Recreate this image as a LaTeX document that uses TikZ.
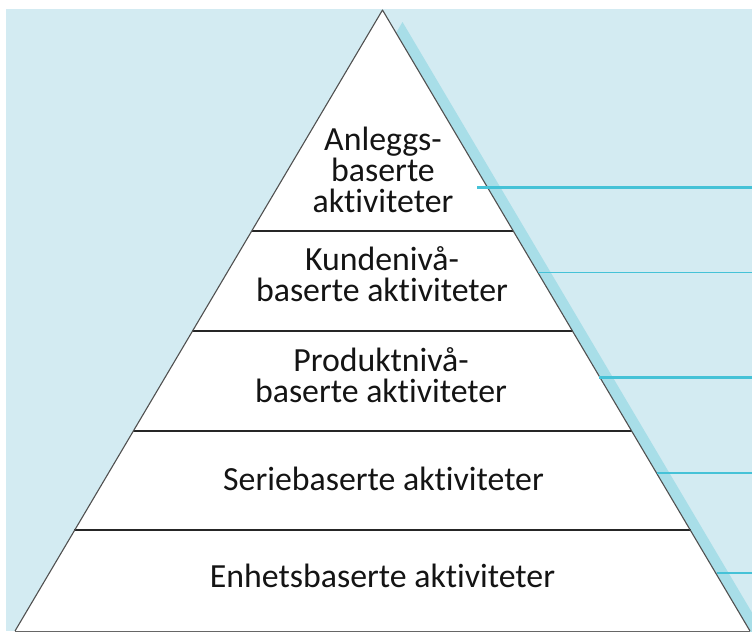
\documentclass[tikz,border=0pt]{standalone}
\usepackage{fontspec}
\setmainfont{Carlito}[Ligatures=NoCommon]
\usetikzlibrary{calc}
\definecolor{bgblue}{HTML}{D3EBF2}
\definecolor{shadowblue}{HTML}{A8DEE8}
\definecolor{lineblue}{HTML}{45C2D7}
\definecolor{edgegray}{HTML}{505050}
\begin{document}
\begin{tikzpicture}[x=1pt,y=-1pt,
  lbl/.style={anchor=base,inner sep=0pt,align=center,font=\fontsize{33.8}{31}\selectfont,text=black!92},
  divider/.style={draw=black!85,line width=1.3pt},
  marker/.style={draw=lineblue,line width=2.2pt}]
\useasboundingbox (0,0) rectangle (752,632);
% background
\fill[white] (0,0) rectangle (752,632);
\fill[bgblue] (6,9) rectangle (752,631);
% coordinates of pyramid
\coordinate (apex) at (382.5,10);
\coordinate (bl) at (15,631);
\coordinate (br) at (750,631);
% shadow
\begin{scope}
\clip (6,9) rectangle (752,631);
\fill[shadowblue] ($(apex)+(20,12)$) -- ($(bl)+(20,12)$) -- ($(br)+(20,12)$) -- cycle;
\end{scope}
% pyramid
\fill[white] (apex) -- (bl) -- (br) -- cycle;
% dividers
\foreach \yy/\nm in {231/a,331/b,431/c,530/d}{
  \pgfmathsetmacro{\dx}{0.5927*(\yy-10)}
  \coordinate (L\nm) at ({382.5-\dx},\yy);
  \coordinate (R\nm) at ({382.5+\dx},\yy);
  \draw[divider] (L\nm) -- (R\nm);
}
\draw[draw=edgegray,line width=1.1pt,line join=round] (br) -- (apex) -- (bl);
\draw[draw=black!60,line width=1pt] (bl) -- (br);
% marker lines
\coordinate (m1s) at (477,187.5); \coordinate (m1e) at (752,187.5);
\coordinate (m2s) at (538,272.5); \coordinate (m2e) at (752,272.5);
\coordinate (m3s) at (599,377.5); \coordinate (m3e) at (752,377.5);
\coordinate (m4s) at (657,473); \coordinate (m4e) at (752,473);
\coordinate (m5s) at (717,572.5); \coordinate (m5e) at (752,572.5);
\draw[marker,line width=2.4pt] (m1s) -- (m1e);
\draw[marker,line width=1.8pt] (m2s) -- (m2e);
\draw[marker] (m3s) -- (m3e);
\draw[marker] (m4s) -- (m4e);
\draw[marker,line width=2pt] (m5s) -- (m5e);
% labels
\node[lbl] (t1) at (383,212) {Anleggs-\\baserte\\aktiviteter};
\node[lbl] (t2) at (382,301.5) {Kundenivå-\\baserte aktiviteter};
\node[lbl] (t3) at (381,402) {Produktnivå-\\baserte aktiviteter};
\node[lbl] (t4) at (383.5,490) {Seriebaserte aktiviteter};
\node[lbl] (t5) at (382.5,587) {Enhetsbaserte aktiviteter};
\end{tikzpicture}
\end{document}
